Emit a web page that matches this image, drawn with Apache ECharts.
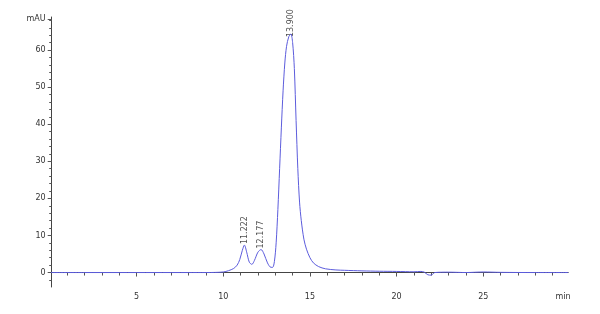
<!DOCTYPE html>
<html><head><meta charset="utf-8">
<script src="https://cdn.jsdelivr.net/npm/echarts@6/dist/echarts.min.js"></script>
<style>html,body{margin:0;padding:0;background:#fff}#c{width:600px;height:314px}</style>
</head><body><div id="c"></div>
<script>
const times = [0,2,4,6,8,9,9.5,10,10.3,10.6,10.8,10.95,11.1,11.22,11.35,11.5,11.65,11.8,12.0,12.18,12.35,12.55,12.75,12.85,12.95,13.05,13.15,13.25,13.35,13.45,13.55,13.65,13.78,13.9,14.0,14.1,14.2,14.3,14.4,14.5,14.65,14.8,15.0,15.2,15.5,15.9,16.5,17,18,19,20,21,21.4,21.6,21.8,22.0,22.2,23,24,25,26,28,29.9];
const signal = [0,0,0,0,0,0,0.03,0.15,0.5,1.1,2.0,3.5,6.0,7.4,5.5,2.8,2.2,3.3,5.5,6.2,5.0,2.6,1.4,1.4,3,8,17,28,39,49,56.5,61,63.6,64.3,62,55,41,28,19,14,9,6.3,4,2.6,1.6,1.0,0.7,0.6,0.45,0.35,0.3,0.2,0.3,0.1,-0.6,-0.7,0,0.1,0,0.15,0.05,0,0];
const peakTimes = [11.222,12.177,13.9];
const peakHeights = [7.4,6.2,64.3];
const peakLabels = ['11.222','12.177','13.900'];
const xTickLabels = [5,10,15,20,25];
const xUnit = 'min';
const yTickLabels = [0,10,20,30,40,50,60];
const yUnit = 'mAU';

const font = 'DejaVu Sans';
const minorX = []; for (let v = 1; v <= 29; v++) minorX.push(v);
const minorY = []; for (let v = -2; v <= 68; v += 2) minorY.push(v);

const chart = echarts.init(document.getElementById('c'));
chart.setOption({
  animation: false,
  grid: [
    {left: 51.7, top: 17, width: 516.5, height: 270},
  ],
  xAxis: [{
    type: 'value', min: 0.1, max: 29.9,
    axisLine: {lineStyle: {color: '#444', width: 1}},
    splitLine: {show: false},
    axisTick: {customValues: minorX, length: 3, lineStyle: {color: '#555'}},
    axisLabel: {customValues: xTickLabels.concat([29.6]), color: '#333', fontFamily: font, fontSize: 8, margin: 6,
      formatter: v => (v > 29 ? xUnit : String(v))}
  },{
    type: 'value', min: 0.1, max: 29.9, gridIndex: 0, position: 'bottom',
    axisLine: {show: false}, splitLine: {show: false}, axisLabel: {show: false},
    axisTick: {customValues: xTickLabels, length: 4, lineStyle: {color: '#555'}}
  }],
  yAxis: [{
    type: 'value', min: -3.9, max: 68.9,
    axisLine: {show: true, lineStyle: {color: '#444', width: 1}},
    splitLine: {show: false},
    axisTick: {show: true, customValues: minorY, length: 2.5, lineStyle: {color: '#555'}},
    axisLabel: {customValues: yTickLabels.concat([68.4]), color: '#333', fontFamily: font, fontSize: 8, margin: 6,
      formatter: v => (v > 65 ? yUnit : String(v))}
  },{
    type: 'value', min: -3.9, max: 68.9, position: 'left',
    axisLine: {show: false}, splitLine: {show: false}, axisLabel: {show: false},
    axisTick: {show: true, customValues: yTickLabels.concat([68.4]), length: 4, lineStyle: {color: '#555'}}
  }],
  series: [{
    type: 'line', smooth: 0.3, symbol: 'none',
    data: times.map((t, i) => [t, signal[i]]),
    lineStyle: {color: '#5c5cdc', width: 1}
  },{
    type: 'scatter', symbolSize: 0,
    data: peakTimes.map((t, i) => ({value: [t, peakHeights[i]], label: {distance: i === 2 ? -3 : 1}})),
    label: {show: true, position: 'top', rotate: 90, align: 'left', verticalAlign: 'middle',
      formatter: p => peakLabels[p.dataIndex], color: '#222', fontFamily: font, fontSize: 8}
  }]
});
</script></body></html>
